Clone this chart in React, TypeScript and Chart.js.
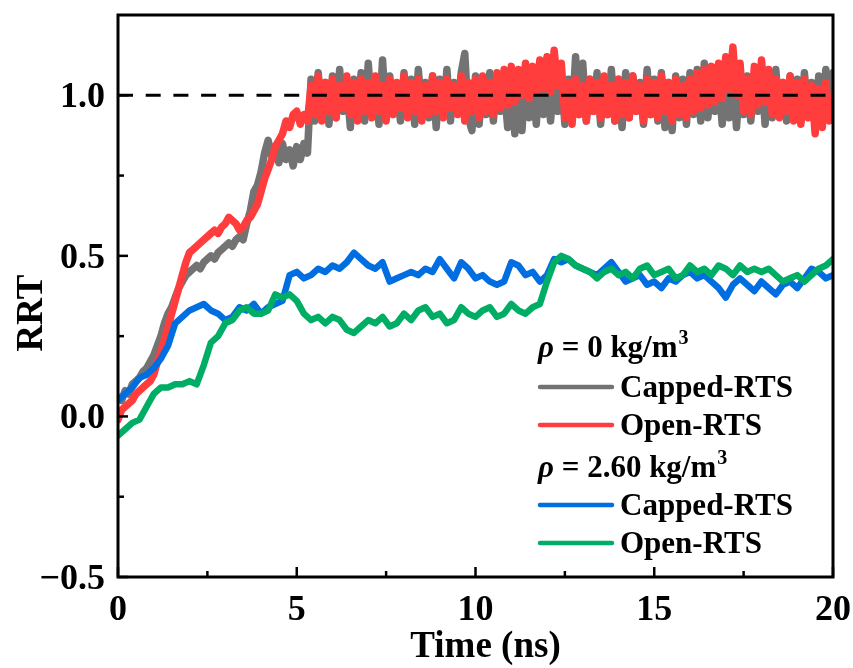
import { useEffect, useRef } from "react";
import { Chart, registerables } from "chart.js";

Chart.register(...registerables);

// ---- data ----
const fineStep = 0.1; // ns between samples of the rho = 0 series
const coarseStep = 0.2; // ns between samples of the rho = 2.60 series

const cappedRho0 = [
  0.06, 0.05, 0.08, 0.07, 0.10, 0.11, 0.12, 0.14, 0.15, 0.17,
  0.19, 0.22, 0.25, 0.29, 0.32, 0.34, 0.37, 0.40, 0.42, 0.44,
  0.45, 0.46, 0.47, 0.46, 0.48, 0.49, 0.50, 0.49, 0.51, 0.52,
  0.53, 0.54, 0.53, 0.55, 0.56, 0.55, 0.60, 0.64, 0.70, 0.72,
  0.76, 0.82, 0.86, 0.81, 0.84, 0.79, 0.85, 0.80, 0.83, 0.78,
  0.84, 0.80, 0.85, 0.82, 1.05, 0.92, 1.07, 0.94, 1.04, 0.91,
  1.06, 0.93, 1.08, 0.95, 1.03, 0.90, 1.05, 0.94, 1.07, 0.92,
  1.10, 0.95, 1.04, 0.91, 1.11, 0.93, 1.06, 0.96, 1.03, 0.92,
  1.07, 0.94, 1.05, 0.91, 1.08, 0.95, 1.04, 0.93, 1.06, 0.90,
  1.05, 0.94, 1.08, 0.92, 1.04, 0.95, 1.07, 1.13, 0.93, 0.89,
  1.06, 0.91, 1.04, 0.94, 1.07, 0.92, 1.05, 0.95, 1.03, 0.90,
  1.06, 0.88, 1.04, 0.89, 1.07, 0.93, 1.05, 0.91, 1.08, 0.94,
  1.04, 0.92, 1.06, 0.95, 1.07, 0.91, 1.05, 0.93, 1.12, 0.94,
  1.10, 0.92, 1.05, 0.95, 1.07, 0.91, 1.04, 0.94, 1.08, 0.92,
  1.05, 0.90, 1.07, 0.93, 1.06, 0.95, 1.04, 0.91, 1.08, 0.94,
  1.05, 0.92, 1.07, 0.90, 1.04, 0.89, 1.06, 0.93, 1.05, 0.91,
  1.07, 0.94, 1.08, 0.92, 1.10, 0.93, 1.05, 0.95, 1.06, 0.91,
  1.04, 0.93, 1.07, 0.90, 1.05, 0.94, 1.06, 0.92, 1.04, 0.95,
  1.07, 0.91, 1.05, 0.93, 1.08, 0.94, 1.04, 0.92, 1.06, 0.95,
  1.05, 0.92, 1.07, 0.94, 1.04, 0.93, 1.06, 0.95, 1.08, 0.96,
  1.07,
];

const openRho0 = [
  -0.01, 0.02, 0.03, 0.04, 0.05, 0.07, 0.08, 0.09, 0.10, 0.11,
  0.13, 0.17, 0.20, 0.24, 0.28, 0.32, 0.36, 0.40, 0.44, 0.48,
  0.51, 0.52, 0.53, 0.54, 0.55, 0.56, 0.57, 0.58, 0.57, 0.59,
  0.60, 0.62, 0.61, 0.60, 0.58, 0.59, 0.61, 0.62, 0.64, 0.66,
  0.70, 0.74, 0.77, 0.80, 0.84, 0.86, 0.88, 0.92, 0.90, 0.94,
  0.95, 0.91, 0.94, 0.92, 1.03, 0.94, 1.06, 0.92, 1.04, 0.95,
  1.05, 0.93, 1.03, 0.96, 1.06, 0.94, 1.04, 0.92, 1.05, 0.95,
  1.04, 0.93, 1.06, 0.95, 1.03, 0.92, 1.05, 0.94, 1.04, 0.96,
  1.06, 0.93, 1.04, 0.95, 1.05, 0.92, 1.03, 0.94, 1.06, 0.95,
  1.04, 0.93, 1.05, 0.96, 1.03, 0.94, 1.06, 0.92, 1.04, 0.95,
  1.05, 0.93, 1.06, 0.95, 1.04, 0.94, 1.07, 0.96, 1.08, 0.97,
  1.09, 0.98, 1.08, 1.00, 1.10, 0.99, 1.09, 1.01, 1.11, 1.02,
  1.12, 1.01, 1.14, 1.03, 1.10, 0.93, 1.04, 0.91, 1.05, 0.94,
  1.03, 0.92, 1.05, 0.95, 1.04, 0.93, 1.06, 0.94, 1.03, 0.92,
  1.05, 0.94, 1.04, 0.93, 1.06, 0.95, 1.03, 0.92, 1.05, 0.94,
  1.04, 0.93, 1.06, 0.95, 1.04, 0.92, 1.05, 0.94, 1.03, 0.93,
  1.05, 0.95, 1.07, 0.96, 1.08, 0.97, 1.09, 0.98, 1.10, 0.99,
  1.12, 1.02, 1.15, 1.00, 1.10, 0.95, 1.05, 0.94, 1.09, 0.97,
  1.11, 0.98, 1.08, 0.94, 1.05, 0.93, 1.04, 0.95, 1.06, 0.92,
  1.04, 0.91, 1.05, 0.93, 1.03, 0.88, 1.02, 0.90, 1.04, 0.92,
  0.96,
];

const cappedRho260 = [
  0.05, 0.07, 0.09, 0.12, 0.13, 0.15, 0.18, 0.22, 0.29, 0.31,
  0.33, 0.34, 0.35, 0.33, 0.32, 0.30, 0.31, 0.34, 0.33, 0.35,
  0.32, 0.34, 0.35, 0.36, 0.44, 0.45, 0.43, 0.44, 0.46, 0.45,
  0.47, 0.46, 0.48, 0.51, 0.49, 0.47, 0.46, 0.48, 0.42, 0.43,
  0.44, 0.45, 0.44, 0.46, 0.45, 0.49, 0.46, 0.43, 0.48, 0.46,
  0.43, 0.44, 0.42, 0.41, 0.42, 0.48, 0.47, 0.44, 0.45, 0.42,
  0.44, 0.49, 0.48, 0.49, 0.47, 0.46, 0.45, 0.44, 0.46, 0.48,
  0.45, 0.42, 0.43, 0.44, 0.41, 0.42, 0.40, 0.43, 0.42, 0.44,
  0.45, 0.43, 0.44, 0.42, 0.40, 0.37, 0.41, 0.43, 0.41, 0.39,
  0.42, 0.40, 0.38, 0.41, 0.42, 0.40, 0.43, 0.46, 0.45, 0.43,
  0.44,
];

const openRho260 = [
  -0.06, -0.04, -0.02, -0.01, 0.03, 0.07, 0.09, 0.09, 0.10, 0.10,
  0.11, 0.10, 0.16, 0.23, 0.25, 0.29, 0.30, 0.33, 0.34, 0.32,
  0.32, 0.33, 0.38, 0.37, 0.38, 0.36, 0.32, 0.30, 0.31, 0.29,
  0.31, 0.30, 0.27, 0.26, 0.28, 0.30, 0.29, 0.31, 0.28, 0.29,
  0.32, 0.30, 0.33, 0.34, 0.31, 0.32, 0.29, 0.30, 0.34, 0.32,
  0.31, 0.33, 0.34, 0.31, 0.32, 0.35, 0.33, 0.32, 0.34, 0.35,
  0.42, 0.48, 0.50, 0.49, 0.47, 0.46, 0.45, 0.43, 0.45, 0.46,
  0.44, 0.45, 0.43, 0.46, 0.47, 0.44, 0.45, 0.46, 0.43, 0.44,
  0.47, 0.45, 0.46, 0.44, 0.47, 0.46, 0.44, 0.47, 0.45, 0.46,
  0.45, 0.46, 0.44, 0.42, 0.43, 0.44, 0.42, 0.44, 0.46, 0.47,
  0.49,
];

const referenceLevel = 1.0;
const xRange = [0, 20];
const yRange = [-0.5, 1.25];
const xMajorTicks = [0, 5, 10, 15, 20];
const xMinorTicks = [2.5, 7.5, 12.5, 17.5];
const yMajorTicks = [-0.5, 0, 0.5, 1.0];
const yMinorTicks = [-0.25, 0.25, 0.75];
const xTitle = "Time (ns)";
const yTitle = "RRT";
const groupLabels = ["0", "2.60"];
const seriesLabels = ["Capped-RTS", "Open-RTS"];

// ---- styles ----
const COLORS = {
  capped0: "#737373",
  open0: "#ff3d3d",
  capped260: "#006ee0",
  open260: "#00ad64",
};
const FONT = "'Liberation Serif', 'Times New Roman', serif";

const toPoints = (vals: number[], step: number) =>
  vals.map((v, i) => ({ x: Math.round(i * step * 100) / 100, y: v }));

const fmtY = (v: number) => (v < 0 ? "\u2212" + Math.abs(v).toFixed(1) : v.toFixed(1));

const decorPlugin = {
  id: "decor",
  afterDraw(chart: any) {
    const { ctx, chartArea: a, scales } = chart;
    const xs = scales.x;
    const ys = scales.y;
    ctx.save();
    ctx.strokeStyle = "#000";
    ctx.fillStyle = "#000";
    ctx.lineCap = "butt";

    // ticks (inward)
    ctx.lineWidth = 2.5;
    const major = 10;
    const minor = 6;
    xMajorTicks.forEach((v) => {
      const px = xs.getPixelForValue(v);
      ctx.beginPath();
      ctx.moveTo(px, a.bottom);
      ctx.lineTo(px, a.bottom - major);
      ctx.stroke();
    });
    xMinorTicks.forEach((v) => {
      const px = xs.getPixelForValue(v);
      ctx.beginPath();
      ctx.moveTo(px, a.bottom);
      ctx.lineTo(px, a.bottom - minor);
      ctx.stroke();
    });
    yMajorTicks.forEach((v) => {
      const py = ys.getPixelForValue(v);
      ctx.beginPath();
      ctx.moveTo(a.left, py);
      ctx.lineTo(a.left + major, py);
      ctx.stroke();
    });
    yMinorTicks.forEach((v) => {
      const py = ys.getPixelForValue(v);
      ctx.beginPath();
      ctx.moveTo(a.left, py);
      ctx.lineTo(a.left + minor, py);
      ctx.stroke();
    });

    // frame
    ctx.lineWidth = 3;
    ctx.strokeRect(a.left, a.top, a.right - a.left, a.bottom - a.top);

    // tick labels
    ctx.font = `bold 36px ${FONT}`;
    ctx.textBaseline = "alphabetic";
    ctx.textAlign = "right";
    yMajorTicks.forEach((v) => {
      const py = ys.getPixelForValue(v);
      ctx.fillText(fmtY(v), a.left - 13, py + 12);
    });
    ctx.textAlign = "center";
    xMajorTicks.forEach((v) => {
      const px = xs.getPixelForValue(v);
      ctx.fillText(String(v), px, a.bottom + 43);
    });

    // axis titles
    ctx.font = `bold 37px ${FONT}`;
    ctx.fillText(xTitle, (a.left + a.right) / 2 + 10, a.bottom + 80);
    ctx.save();
    ctx.translate(42, 313);
    ctx.rotate(-Math.PI / 2);
    ctx.fillText(yTitle, 0, 0);
    ctx.restore();

    // legend
    const lx = a.left + 420;
    const lineX0 = a.left + 422;
    const lineX1 = a.left + 494;
    const textX = a.left + 502;
    const header = (y: number, val: string) => {
      ctx.textAlign = "left";
      ctx.font = `italic bold 31px ${FONT}`;
      ctx.fillText("\u03c1", lx, y);
      let cx = lx + ctx.measureText("\u03c1").width;
      ctx.font = `bold 31px ${FONT}`;
      const s = ` = ${val} kg/m`;
      ctx.fillText(s, cx, y);
      cx += ctx.measureText(s).width;
      ctx.font = `bold 20px ${FONT}`;
      ctx.fillText("3", cx + 1, y - 13);
    };
    const entry = (yLine: number, color: string, label: string) => {
      ctx.strokeStyle = color;
      ctx.lineWidth = 4.5;
      ctx.lineCap = "round";
      ctx.beginPath();
      ctx.moveTo(lineX0, yLine);
      ctx.lineTo(lineX1, yLine);
      ctx.stroke();
      ctx.font = `bold 31px ${FONT}`;
      ctx.textAlign = "left";
      ctx.fillStyle = "#000";
      ctx.fillText(label, textX, yLine + 10);
    };
    header(357, groupLabels[0]);
    entry(387, COLORS.capped0, seriesLabels[0]);
    entry(425, COLORS.open0, seriesLabels[1]);
    header(477, groupLabels[1]);
    entry(505, COLORS.capped260, seriesLabels[0]);
    entry(543, COLORS.open260, seriesLabels[1]);

    ctx.restore();
  },
};

export default function App() {
  const ref = useRef<HTMLCanvasElement | null>(null);
  useEffect(() => {
    if (!ref.current) return;
    const lineDs = (label: string, data: any[], color: string, width: number, order: number) => ({
      label,
      data,
      borderColor: color,
      backgroundColor: color,
      borderWidth: width,
      pointRadius: 0,
      tension: 0,
      fill: false,
      order,
      borderJoinStyle: "round" as const,
      borderCapStyle: "round" as const,
    });
    const chart = new Chart(ref.current, {
      type: "line",
      data: {
        datasets: [
          lineDs("Capped-RTS (ρ = 0)", toPoints(cappedRho0, fineStep), COLORS.capped0, 7.5, 5),
          lineDs("Open-RTS (ρ = 0)", toPoints(openRho0, fineStep), COLORS.open0, 7.5, 4),
          lineDs("Capped-RTS (ρ = 2.60)", toPoints(cappedRho260, coarseStep), COLORS.capped260, 6.5, 3),
          lineDs("Open-RTS (ρ = 2.60)", toPoints(openRho260, coarseStep), COLORS.open260, 6.5, 2),
          {
            label: "reference",
            data: [
              { x: xRange[0], y: referenceLevel },
              { x: xRange[1], y: referenceLevel },
            ],
            borderColor: "#000",
            borderWidth: 3,
            borderDash: [15, 12.7],
            pointRadius: 0,
            fill: false,
            order: 1,
          },
        ],
      },
      options: {
        animation: false,
        responsive: false,
        maintainAspectRatio: false,
        layout: { padding: { left: 0, right: 20, top: 15, bottom: 0 } },
        plugins: { legend: { display: false }, tooltip: { enabled: false } },
        scales: {
          x: {
            type: "linear",
            min: xRange[0],
            max: xRange[1],
            grid: { display: false, drawTicks: false },
            border: { display: false },
            ticks: { display: false },
            afterFit: (s: any) => {
              s.height = 91;
            },
          },
          y: {
            type: "linear",
            min: yRange[0],
            max: yRange[1],
            grid: { display: false, drawTicks: false },
            border: { display: false },
            ticks: { display: false },
            afterFit: (s: any) => {
              s.width = 118;
            },
          },
        },
      },
      plugins: [decorPlugin],
    });
    return () => chart.destroy();
  }, []);
  return (
    <div style={{ position: "absolute", left: 0, top: 0, width: 853, height: 668, background: "#fff" }}>
      <canvas ref={ref} width={853} height={668} style={{ width: 853, height: 668, display: "block" }} />
    </div>
  );
}
